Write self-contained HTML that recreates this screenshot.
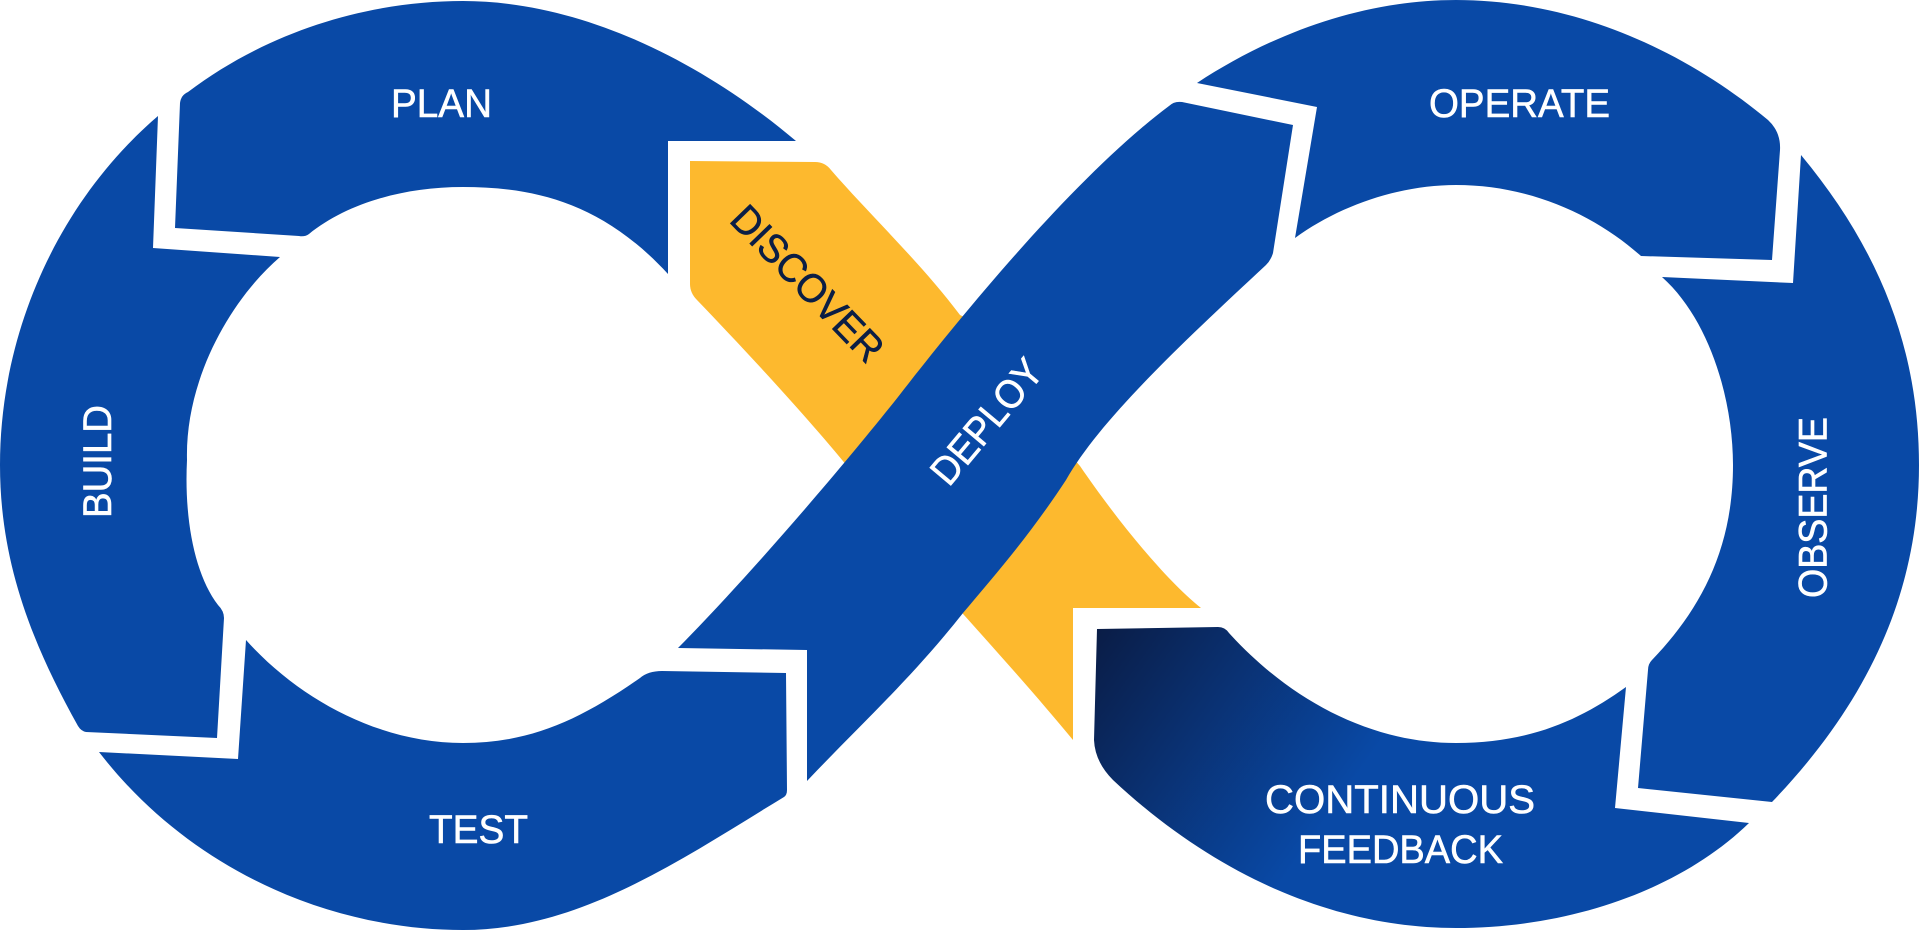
<!DOCTYPE html>
<html>
<head>
<meta charset="utf-8">
<style>
  html,body{margin:0;padding:0;background:#ffffff;}
  body{width:1920px;height:930px;overflow:hidden;}
  svg{display:block;}
  .t{font-family:"Liberation Sans",Arial,sans-serif;font-size:40px;fill:#ffffff;stroke:#ffffff;stroke-width:0.6;}
  .d{font-family:"Liberation Sans",Arial,sans-serif;font-size:40px;fill:#0B1E45;stroke:#0B1E45;stroke-width:0.6;}
</style>
</head>
<body>
<svg width="1920" height="930" viewBox="0 0 1920 930" xmlns="http://www.w3.org/2000/svg">
  <defs>
    <linearGradient id="cf" gradientUnits="userSpaceOnUse" x1="1100" y1="630" x2="1340" y2="800">
      <stop offset="0" stop-color="#0A1D47"/>
      <stop offset="1" stop-color="#0949A6"/>
    </linearGradient>
  </defs>

  <!-- PLAN -->
  <path fill="#0949A6" d="M180,103 Q181,95 188,92 C270,30 370,1 463,1 C580,1 700,60 796,141 L668,141 L668,274 C600,200 530,187 463,187 C400,187 345,205 309,234 Q305,237 299,236 L175,228 Z"/>

  <!-- BUILD -->
  <path fill="#0949A6" d="M158,116 L153,248 L280,257 C230,300 185,380 187,460 C184,520 195,575 218,605 Q224,611 224,618 L217,738 L86,732 Q81,731 78,726 C30,640 0,560 0,465 C0,330 60,200 158,116 Z"/>

  <!-- TEST -->
  <path fill="#0949A6" d="M246,640 L238,759 L99,752 C190,870 330,930 463,930 C580,930 680,860 784,797 Q787,795 787,790 L786,673 L662,671 Q648,671 640,678 C580,720 530,743 463,743 C380,743 300,700 246,640 Z"/>

  <!-- DISCOVER yellow -->
  <path fill="#FDB92E" d="M690,161 L815,162 Q825,162 831,170 C870,215 920,262 960,315 L1010,340 L880,480 L860,482 C815,425 745,350 697,300 Q690,293 690,284 Z"/>

  <!-- bottom yellow wedge -->
  <path fill="#FDB92E" d="M1040,420 L1080,466 C1110,510 1160,575 1201,608 L1073,608 L1073,740 C1040,700 1000,655 955,605 L940,580 Z"/>

  <!-- DEPLOY -->
  <path fill="#0949A6" d="M1182,102 L1293,125 L1273,253 Q1271,260 1266,265 C1180,345 1100,420 1066,480 C1030,535 995,575 963,613 C910,680 860,725 807,781 L807,650 L678,648 C750,575 840,470 898,397 C950,330 1070,180 1169,106 Q1174,101 1182,102 Z"/>

  <!-- OPERATE -->
  <path fill="#0949A6" d="M1197,83 L1317,107 L1295,238 C1340,205 1400,185 1456,185 C1530,185 1595,215 1641,256 L1772,260 L1780,150 Q1781,132 1768,120 C1690,55 1580,0 1456,0 C1360,0 1270,35 1197,83 Z"/>

  <!-- OBSERVE -->
  <path fill="#0949A6" d="M1801,155 L1793,283 L1662,277 C1710,320 1733,400 1733,465 C1733,550 1700,610 1652,660 Q1648,664 1648,670 L1638,788 L1772,802 C1870,700 1919,590 1919,465 C1919,350 1880,250 1801,155 Z"/>

  <!-- CONTINUOUS FEEDBACK -->
  <path fill="url(#cf)" d="M1097,629 L1218,627 Q1225,627 1229,633 C1290,700 1370,743 1456,743 C1530,743 1580,720 1626,687 L1615,808 L1749,823 C1680,890 1570,928 1456,928 C1340,928 1220,880 1113,780 Q1095,762 1094,740 Z"/>

  <!-- Labels -->
  <text class="t" x="441.5" y="117" text-anchor="middle" textLength="101" lengthAdjust="spacingAndGlyphs">PLAN</text>
  <text class="t" x="1519.5" y="117" text-anchor="middle" textLength="181" lengthAdjust="spacingAndGlyphs">OPERATE</text>
  <text class="t" x="478.5" y="843" text-anchor="middle" textLength="99" lengthAdjust="spacingAndGlyphs">TEST</text>
  <text class="t" x="1400" y="813" text-anchor="middle" textLength="270" lengthAdjust="spacingAndGlyphs">CONTINUOUS</text>
  <text class="t" x="1400.5" y="863" text-anchor="middle" textLength="205" lengthAdjust="spacingAndGlyphs">FEEDBACK</text>

  <g transform="translate(96.5,461.5) rotate(-90)">
    <text class="t" x="0" y="14.5" text-anchor="middle" textLength="113" lengthAdjust="spacingAndGlyphs">BUILD</text>
  </g>
  <g transform="translate(1812,507.5) rotate(-90)">
    <text class="t" x="0" y="14.5" text-anchor="middle" textLength="181" lengthAdjust="spacingAndGlyphs">OBSERVE</text>
  </g>
  <g transform="translate(808,283) rotate(46)">
    <text class="d" x="0" y="14.5" text-anchor="middle" textLength="200" lengthAdjust="spacingAndGlyphs">DISCOVER</text>
  </g>
  <g transform="translate(986,421) rotate(-50)">
    <text class="t" x="0" y="14.5" text-anchor="middle" textLength="150" lengthAdjust="spacingAndGlyphs">DEPLOY</text>
  </g>
</svg>
</body>
</html>
